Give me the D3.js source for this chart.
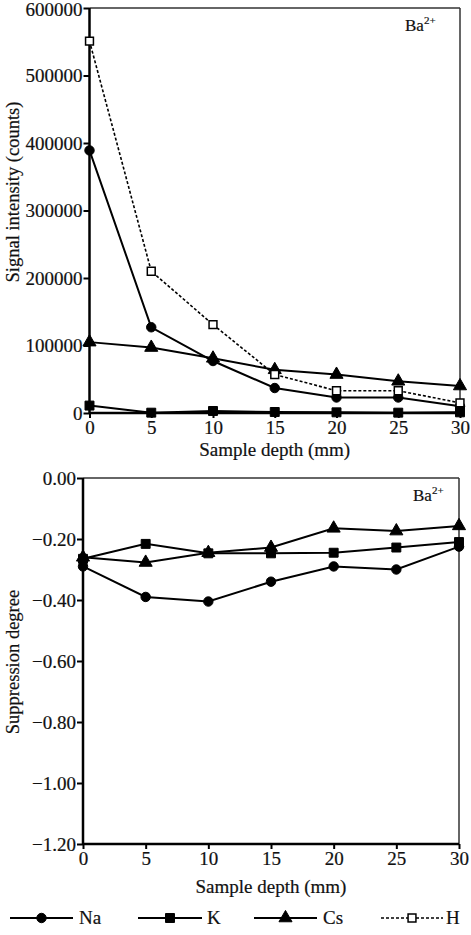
<!DOCTYPE html>
<html><head><meta charset="utf-8">
<script src="https://cdn.jsdelivr.net/npm/d3@7"></script>
<style>
html,body{margin:0;padding:0;background:#fff;}
svg text{font-family:"Liberation Serif","Times New Roman",serif;fill:#111;stroke:#111;stroke-width:0.2px;}
</style></head>
<body>
<svg id="c" width="471" height="935"></svg>
<script>
const depths = [0, 5, 10, 15, 20, 25, 30];
const signalNa = [389000, 127000, 77000, 37000, 23000, 23000, 10000];
const signalK  = [11000, 500, 3000, 1500, 1000, 500, 1000];
const signalCs = [105000, 97000, 81000, 64000, 57000, 47000, 40000];
const signalH  = [551000, 210000, 131000, 57000, 33000, 33000, 15000];
const suppNa = [-0.29, -0.39, -0.405, -0.34, -0.29, -0.30, -0.225];
const suppK  = [-0.265, -0.216, -0.247, -0.247, -0.245, -0.228, -0.21];
const suppCs = [-0.26, -0.277, -0.245, -0.228, -0.165, -0.174, -0.157];
const signalTicks = [0, 100000, 200000, 300000, 400000, 500000, 600000];
const suppTicks = [0, -0.2, -0.4, -0.6, -0.8, -1.0, -1.2];
const xTicks = [0, 5, 10, 15, 20, 25, 30];
const seriesNames = ["Na", "K", "Cs", "H"];

const svg = d3.select("#c");
const FONT = '"Liberation Serif","Times New Roman",serif';
const sym = {Na: d3.symbolCircle, K: d3.symbolSquare, Cs: d3.symbolTriangle, H: d3.symbolSquare};
const symSize = {Na: 70, K: 80, Cs: 74, H: 62};

function drawMarker(g, name, x, y) {
  const open = name === "H";
  g.append("path")
    .attr("d", d3.symbol().type(sym[name]).size(symSize[name])())
    .attr("transform", `translate(${x},${y})`)
    .attr("fill", open ? "#fff" : "#000")
    .attr("stroke", "#000")
    .attr("stroke-width", open ? 1.5 : 1);
}

function panel(opts) {
  const {x0, x1, y0, y1, yDomain, yTicks, fmt, series, yLabel, yLabelX, yLabelY, xLabelY, baY, baX} = opts;
  const x = d3.scaleLinear().domain([0, 30]).range([x0, x1]);
  const y = d3.scaleLinear().domain(yDomain).range([y0, y1]);
  const g = svg.append("g");
  g.append("line").attr("x1", x0).attr("x2", x1).attr("y1", y1).attr("y2", y1).attr("stroke", "#333").attr("stroke-width", 1.5);
  g.append("line").attr("x1", x1).attr("x2", x1).attr("y1", y1).attr("y2", y0).attr("stroke", "#333").attr("stroke-width", 1.5);
  const ax = g.append("g").attr("transform", `translate(0,${y0})`)
    .call(d3.axisBottom(x).tickValues(xTicks).tickSize(5).tickPadding(3).tickFormat(d3.format("d")));
  const ay = g.append("g").attr("transform", `translate(${x0},0)`)
    .call(d3.axisLeft(y).tickValues(yTicks).tickSize(6).tickPadding(1).tickFormat(fmt));
  [ax, ay].forEach(a => {
    a.attr("font-family", FONT).attr("font-size", 19);
    a.select(".domain").attr("stroke", "#000").attr("stroke-width", 2.5);
    a.selectAll(".tick line").attr("stroke", "#000").attr("stroke-width", 2);
    a.selectAll("text").attr("fill", "#111");
  });
  // keep the topmost tick label inside the page
  ay.selectAll(".tick text").filter(d => y(d) < 12).attr("dy", "0.42em");
  ax.select(".domain").attr("d", `M${x0},0H${x1}`);
  ay.select(".domain").attr("d", `M0,${y0}V${y1}`);
  series.forEach(s => {
    const line = d3.line().x((d, i) => x(depths[i])).y(d => y(d));
    g.append("path").datum(s.values).attr("d", line).attr("fill", "none")
      .attr("stroke", "#000").attr("stroke-width", s.name === "H" ? 1.6 : 2)
      .attr("stroke-dasharray", s.name === "H" ? "3,2" : null);
  });
  series.forEach(s => {
    s.values.forEach((v, i) => drawMarker(g, s.name, x(depths[i]), y(v)));
  });
  g.append("text").attr("transform", `translate(${yLabelX},${yLabelY}) rotate(-90)`)
    .attr("text-anchor", "middle").attr("font-size", 18.5).text(yLabel);
  g.append("text").attr("x", (x0 + x1) / 2).attr("y", xLabelY).attr("text-anchor", "middle")
    .attr("font-size", 19).text("Sample depth (mm)");
  const ba = g.append("text").attr("x", baX).attr("y", baY).attr("font-size", 17);
  ba.append("tspan").text("Ba");
  ba.append("tspan").attr("dy", -7).attr("font-size", 11).text("2+");
}

panel({
  x0: 89.5, x1: 460, y0: 413, y1: 8,
  yDomain: [0, 600000], yTicks: signalTicks, fmt: d3.format("d"),
  series: [
    {name: "Na", values: signalNa}, {name: "K", values: signalK},
    {name: "Cs", values: signalCs}, {name: "H", values: signalH}
  ],
  yLabel: "Signal intensity (counts)", yLabelX: 19, yLabelY: 192, xLabelY: 456,
  baX: 405, baY: 31
});

panel({
  x0: 83, x1: 459, y0: 844, y1: 478,
  yDomain: [-1.2, 0], yTicks: suppTicks, fmt: d => d === 0 ? "0.00" : "\u2212" + Math.abs(d).toFixed(2),
  series: [
    {name: "Na", values: suppNa}, {name: "K", values: suppK}, {name: "Cs", values: suppCs}
  ],
  yLabel: "Suppression degree", yLabelX: 19, yLabelY: 662, xLabelY: 893,
  baX: 413, baY: 501
});

const legend = svg.append("g");
const legItems = [
  {name: "Na", lx0: 10, lx1: 73, tx: 79},
  {name: "K", lx0: 138, lx1: 202, tx: 207},
  {name: "Cs", lx0: 254, lx1: 317, tx: 323},
  {name: "H", lx0: 381, lx1: 443, tx: 446}
];
legItems.forEach((it, i) => {
  const ly = 918;
  legend.append("line").attr("x1", it.lx0).attr("x2", it.lx1).attr("y1", ly).attr("y2", ly)
    .attr("stroke", "#000").attr("stroke-width", it.name === "H" ? 1.6 : 2)
    .attr("stroke-dasharray", it.name === "H" ? "3,2" : null);
  drawMarker(legend, seriesNames[i], (it.lx0 + it.lx1) / 2, ly);
  legend.append("text").attr("x", it.tx).attr("y", ly + 6).attr("font-size", 19).text(it.name);
});
</script>
</body></html>
